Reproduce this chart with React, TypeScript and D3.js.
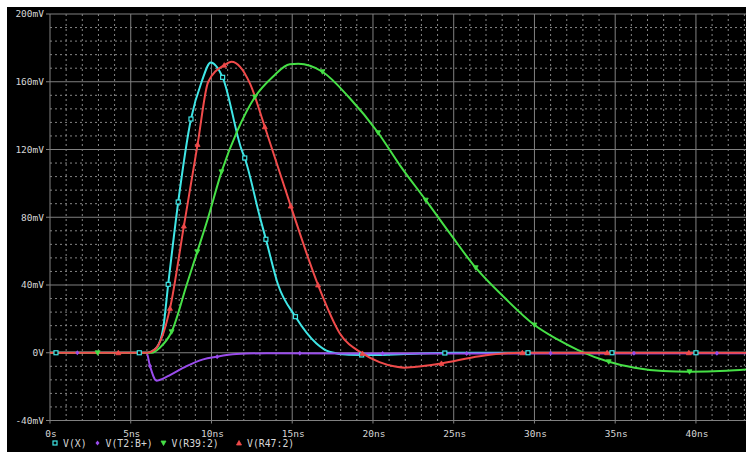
import * as d3 from 'd3'

// time axis (ns) and value (mV) samples
const cyanT = [0, 6.0, 6.6, 7.0, 7.32, 7.94, 8.73, 9.39, 9.96, 10.69, 11.86, 12.06, 13.0, 13.37, 14.13, 15.2, 16.5, 17.3, 18.5, 20, 22, 25, 43.2]
const cyanV = [0, 0, 3, 14, 40.4, 89, 138, 160, 171.4, 162.6, 120, 115, 80, 67, 40, 21.3, 5.5, 0.6, -1.2, -1.4, -0.8, 0, 0]

const purpleT = [0, 5.98, 6.19, 6.6, 7.0, 7.43, 8.46, 9.49, 10.3, 11.55, 13.4, 20, 43.2]
const purpleV = [0, 0, -7.8, -16.5, -15.3, -13.2, -7.9, -3.9, -2.4, -0.8, -0.3, -0.4, -0.3]

const greenT = [0, 6.3, 6.8, 7.53, 8.46, 9.12, 9.8, 10.62, 11.6, 12.69, 13.8, 14.85, 15.37, 16.87, 18.5, 20.32, 21.66, 23.27, 24.8, 26.36, 28.2, 30.0, 31.4, 32.7, 34.6, 36.2, 37.95, 39.6, 41.9, 43.2]
const greenV = [0, 0, 3, 12.4, 40, 59.6, 80, 106.8, 131, 151, 163, 170.4, 170.6, 165.9, 151, 129.9, 110.8, 90.1, 70, 50.2, 32, 16.4, 8, 1.6, -5.3, -8.8, -10.8, -11.2, -10.6, -9.8]

const redT = [0, 6.0, 6.5, 7.0, 7.43, 8.29, 9.14, 9.8, 10.79, 11.24, 11.8, 12.38, 13.3, 14.91, 16.6, 17.95, 19.35, 20.4, 21.45, 21.97, 23.0, 24.24, 26.6, 29.1, 43.2]
const redV = [0, 0, 2, 11, 26.2, 74.8, 123, 160, 169.8, 171.8, 168.5, 159, 133.4, 86.6, 40, 11.4, -0.4, -5.5, -8.3, -8.8, -8, -6.3, -2, 0, 0]

// marker times (ns)
const cyanMarks = [0.37, 5.53, 7.32, 7.94, 8.73, 10.69, 12.06, 13.37, 15.2, 19.3, 24.45, 29.6, 34.8, 40.0]
const purpleMarks = [1.69, 6.19, 10.35, 15.47, 20.6, 25.8, 31.0, 36.16, 41.3]
const greenMarks = [2.95, 7.53, 9.12, 10.62, 12.69, 16.87, 20.32, 23.27, 26.36, 30.0, 34.6, 39.6]
const redMarks = [4.23, 7.43, 8.29, 9.14, 10.79, 13.3, 14.91, 16.6, 19.35, 24.24, 29.25, 34.5, 39.56]

const xTicks = [0, 5, 10, 15, 20, 25, 30, 35, 40]
const xTickLabels = ['0s', '5ns', '10ns', '15ns', '20ns', '25ns', '30ns', '35ns', '40ns']
const yTicks = [-40, 0, 40, 80, 120, 160, 200]
const yTickLabels = ['-40mV', '0V', '40mV', '80mV', '120mV', '160mV', '200mV']

const seriesNames = ['V(X)', 'V(T2:B+)', 'V(R39:2)', 'V(R47:2)']
const seriesColors = ['#3fe6e6', '#9a4cec', '#46e046', '#f04a4a']

const W = 746
const H = 452
const left = 50
const top = 14
const bottom = 420.5

const font = '"DejaVu Sans Mono", monospace'

function Marker({ kind, x, y, color }: { kind: number; x: number; y: number; color: string }) {
  if (kind === 0) {
    return <rect x={x - 2} y={y - 2} width={4} height={4} fill="black" stroke={color} strokeWidth={1.2} />
  }
  if (kind === 1) {
    return <path d={`M${x},${y - 2.5}L${x + 2},${y}L${x},${y + 2.5}L${x - 2},${y}Z`} fill={color} />
  }
  if (kind === 2) {
    return <path d={`M${x - 2.5},${y - 2}L${x + 2.5},${y - 2}L${x},${y + 2.5}Z`} fill={color} stroke={color} strokeWidth={0.8} />
  }
  return <path d={`M${x - 2.5},${y + 2}L${x + 2.5},${y + 2}L${x},${y - 2.5}Z`} fill={color} stroke={color} strokeWidth={0.8} />
}

export default function App() {
  const x = d3.scaleLinear().domain([0, 43.1]).range([left, W])
  const y = d3.scaleLinear().domain([-40, 200]).range([bottom, top])

  const series = [
    { t: cyanT, v: cyanV, marks: cyanMarks },
    { t: purpleT, v: purpleV, marks: purpleMarks },
    { t: greenT, v: greenV, marks: greenMarks },
    { t: redT, v: redV, marks: redMarks },
  ]

  const line = d3.line<[number, number]>()
    .x(d => x(d[0]))
    .y(d => y(d[1]))
    .curve(d3.curveMonotoneX)

  const minorX = d3.range(1, 44).filter(d => d % 5 !== 0)
  const minorY = d3.range(-40, 200, 8).filter(d => d % 40 !== 0)

  return (
    <svg width={W} height={H} style={{ position: 'fixed', left: 0, top: 0 }}>
      <rect x={0} y={0} width={W} height={H} fill="white" />
      <rect x={7} y={7} width={W - 7} height={H - 7} fill="black" />
      <defs>
        <clipPath id="plot">
          <rect x={left} y={top - 1} width={W - left} height={bottom - top + 2} />
        </clipPath>
      </defs>

      {/* minor grid */}
      {minorX.map(d => (
        <line key={'mx' + d} x1={x(d)} x2={x(d)} y1={top} y2={bottom} stroke="#858585" strokeWidth={1} strokeDasharray="2,3" />
      ))}
      {minorY.map(d => (
        <line key={'my' + d} x1={left} x2={W} y1={y(d)} y2={y(d)} stroke="#858585" strokeWidth={1} strokeDasharray="2,3" />
      ))}

      {/* major grid */}
      {xTicks.map(d => (
        <line key={'Mx' + d} x1={x(d)} x2={x(d)} y1={top} y2={bottom + 3} stroke="#808080" strokeWidth={1} />
      ))}
      {yTicks.map(d => (
        <line key={'My' + d} x1={left - 4} x2={W} y1={y(d)} y2={y(d)} stroke="#808080" strokeWidth={1} />
      ))}

      {/* axis labels */}
      {xTicks.map((d, i) => (
        <text key={'xl' + d} x={x(d) + 1} y={437} textAnchor="middle" fill="#d6d6d6" fontFamily={font} fontSize={9.5}>
          {xTickLabels[i]}
        </text>
      ))}
      {yTicks.map((d, i) => (
        <text key={'yl' + d} x={44} y={y(d) + 3.3} textAnchor="end" fill="#d6d6d6" fontFamily={font} fontSize={9.5}>
          {yTickLabels[i]}
        </text>
      ))}

      {/* traces */}
      <g clipPath="url(#plot)">
        {series.map((s, i) => (
          <path key={'s' + i} d={line(s.t.map((t, j) => [t, s.v[j]] as [number, number])) || ''}
            fill="none" stroke={seriesColors[i]} strokeWidth={2} />
        ))}
        {series.map((s, i) => {
          const interp = d3.scaleLinear().domain(s.t).range(s.v)
          return s.marks.map((t, j) => (
            <Marker key={'m' + i + '-' + j} kind={i} x={x(t)} y={y(interp(t))} color={seriesColors[i]} />
          ))
        })}
      </g>

      {/* legend */}
      {(() => {
        const pos = [55, 97.5, 163.5, 239]
        return seriesNames.map((n, i) => (
          <g key={'lg' + i}>
            <Marker kind={i} x={pos[i]} y={443} color={seriesColors[i]} />
            <text x={pos[i] + 8} y={447} fill="#d6d6d6" fontFamily={font} fontSize={9.8}>{n}</text>
          </g>
        ))
      })()}
    </svg>
  )
}
